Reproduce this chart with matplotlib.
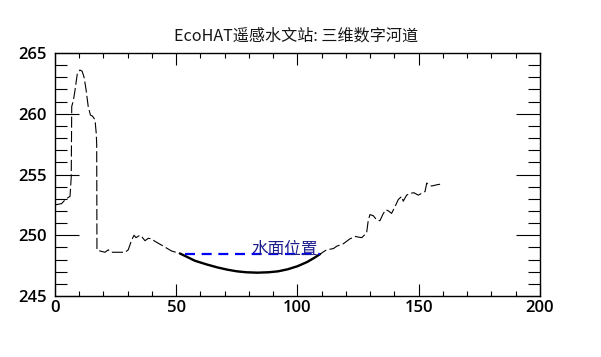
import matplotlib
matplotlib.use('Agg')
import matplotlib.pyplot as plt
import numpy as np
from matplotlib.ticker import MultipleLocator

plt.rcParams['font.family'] = ['Noto Sans CJK SC', 'DejaVu Sans']

# Cross-section profile (distance, elevation)
dist = [0, 2.7, 4.6, 6.2, 6.7, 6.9, 7.6, 8.3, 9.2, 10.3, 11.2, 12.0, 12.8, 13.7,
        14.6, 15.5, 16.5, 17.0, 17.2, 17.3, 18.6, 20.6, 22.0, 23.2, 24.7, 26.1,
        28.9, 30.2, 30.9, 31.6, 32.6, 33.4, 35.0, 35.7, 37.1, 38.5, 39.9, 41.2,
        44.7, 48.1,
        51.5, 53.6, 57.7, 62.5, 67.0, 71.0, 75.0, 79.0, 83.5, 88.0, 92.0, 96.0,
        100.0, 104.0, 107.0, 109.3,
        112.0, 114.8, 116.2, 118.9, 121.6, 123.7, 126.5, 128.5, 129.2, 129.9,
        131.3, 132.7, 134.0, 135.4, 136.5, 137.5, 138.8, 140.2, 141.6, 143.0,
        143.6, 145.0, 146.4, 148.0, 149.8, 151.2, 152.6, 153.3, 153.8, 155.3,
        157.4, 158.8]
elev = [252.5, 252.6, 253.0, 253.2, 254.8, 260.6, 261.1, 262.0, 263.3, 263.6,
        263.5, 263.0, 262.0, 260.6, 259.9, 259.8, 259.5, 258.4, 257.5, 248.8,
        248.7, 248.6, 248.8, 248.6, 248.6, 248.6, 248.6, 248.8, 249.2, 249.6,
        250.0, 249.8, 250.0, 249.9, 249.55, 249.75, 249.7, 249.5, 249.1, 248.7,
        248.5, 248.3, 247.9, 247.6, 247.35, 247.17, 247.03, 246.95, 246.92,
        246.95, 247.03, 247.2, 247.45, 247.8, 248.15, 248.45,
        248.8, 248.9, 249.1, 249.3, 249.7, 249.9, 249.8, 250.2, 251.25, 251.7,
        251.6, 251.25, 251.2, 251.8, 252.1, 252.0, 251.8, 252.35, 252.95, 253.2,
        252.8, 253.3, 253.45, 253.5, 253.3, 253.45, 253.6, 254.3, 254.2, 254.05,
        254.15, 254.2]

water_level = 248.45
water_left = 53.6
water_right = 109.3

dist = np.array(dist)
elev = np.array(elev)

fig = plt.figure(figsize=(6.01, 3.57), dpi=100)
ax = fig.add_axes([0.0915, 0.1709, 0.807, 0.6806])

ax.plot(dist, elev, color='black', lw=0.8, linestyle=(0, (10, 3)))
wet = (dist >= 51.5) & (dist <= water_right)
ax.plot(dist[wet], elev[wet], color='black', lw=1.7, solid_capstyle='round',
        solid_joinstyle='round')
ax.plot([water_left, water_right], [water_level, water_level], color='#0000ff',
        lw=1.6, linestyle=(0, (4.5, 3)))
ax.text(81, water_level, '水面位置', color='#1c1c8c', fontsize=12, va='baseline', ha='left')

ax.set_xlim(0, 200)
ax.set_ylim(245, 265)
ax.xaxis.set_major_locator(MultipleLocator(50))
ax.xaxis.set_minor_locator(MultipleLocator(10))
ax.yaxis.set_major_locator(MultipleLocator(5))
ax.yaxis.set_minor_locator(MultipleLocator(1))
ax.tick_params(axis='x', which='major', direction='in', length=8.6, width=0.8,
               top=True, pad=3)
ax.tick_params(axis='x', which='minor', direction='in', length=3.6, width=0.8, top=True)
ax.tick_params(axis='y', which='major', direction='in', length=17, width=0.8,
               right=True, pad=6)
ax.tick_params(axis='y', which='minor', direction='in', length=8.5, width=0.8, right=True)
for lab in ax.get_xticklabels() + ax.get_yticklabels():
    lab.set_family('Open Sans')
    lab.set_fontweight('semibold')
    lab.set_fontsize(12)
for sp in ax.spines.values():
    sp.set_linewidth(1.0)

fig.text(0.4934, 0.899, 'EcoHAT遥感水文站: 三维数字河道', ha='center', va='center',
         fontsize=11.6, color='#151515')

fig.savefig('out.png', dpi=100)
